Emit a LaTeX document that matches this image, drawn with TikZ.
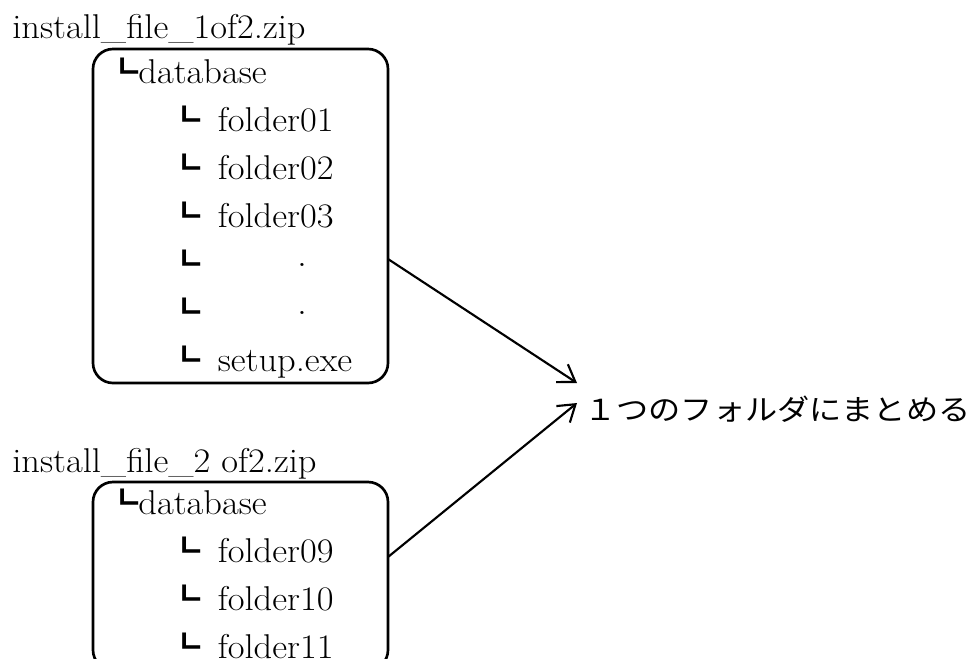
\documentclass[tikz,border=0pt]{standalone}
\usepackage{fontspec}
\setmainfont{Latin Modern Roman}[FakeStretch=1.06]
\newfontfamily\jpface{Noto Sans CJK JP}[FakeStretch=1.11]
\newcommand\jpsize{\jpface\fontsize{21.75pt}{26pt}\selectfont}
\newcommand\treemark{{\jpsize ┗}}
\usetikzlibrary{arrows.meta}

\begin{document}
\begin{tikzpicture}[
  x=0.75pt,y=-0.75pt,
  font=\fontsize{25.8pt}{30pt}\selectfont,
  zipbox/.style={rectangle,rounded corners=15pt,draw,line width=2pt,minimum width=221.25pt},
  row/.style={anchor=base west,inner sep=0pt},
  arr/.style={-{Straight Barb[length=12pt,width=16pt]},line width=1.6pt}
]
\useasboundingbox (0,0) rectangle (973,658);

% first archive
\node[row] (zip1) at (12,38) {install\_file\_1of2.zip};
\node[zipbox,minimum height=250.5pt] (box1) at (240.5,216) {};
\node[row] (db1) at (106,83) {\treemark database};
\foreach \name [count=\i] in {folder01,folder02,folder03}
  \node[row] (f1-\i) at (168,83+48*\i) {\treemark\hspace{13pt}\name};
\foreach \i in {4,5}
  \node[row] (f1-\i) at (168,83+48*\i) {\treemark\hspace{72.7pt}\smash{\raisebox{6.7pt}{\fontsize{28pt}{28pt}\selectfont .}}};
\node[row] (f1-6) at (168,371) {\treemark\hspace{13pt}setup.exe};

% second archive
\node[row] (zip2) at (12,472) {install\_file\_2 of2.zip};
\node[zipbox,minimum height=141pt] (box2) at (240.5,576) {};
\node[row] (db2) at (106,514.5) {\treemark database};
\foreach \name [count=\i] in {folder09,folder10,folder11}
  \node[row] (f2-\i) at (168,514.5+48*\i) {\treemark\hspace{13pt}\name};

% merge target
\node[row,font=\jpsize] (merge) at (584,420) {１つのフォルダにまとめる};
\coordinate (out1) at (388,259);
\coordinate (out2) at (388,557);
\coordinate (in1) at (577,383);
\coordinate (in2) at (577,403);
\draw[arr] (out1)--(in1);
\draw[arr] (out2)--(in2);
\end{tikzpicture}
\end{document}
